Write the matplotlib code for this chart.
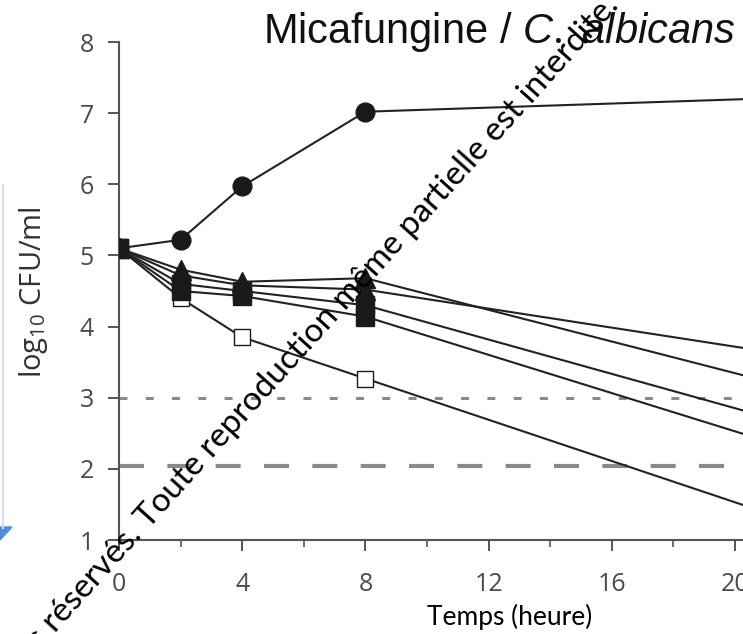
import matplotlib
matplotlib.use("Agg")
import matplotlib.pyplot as plt
from matplotlib.lines import Line2D
from matplotlib.patches import Polygon
from matplotlib.ticker import MultipleLocator

plt.rcParams['mathtext.fontset'] = 'custom'
plt.rcParams['mathtext.rm'] = 'Open Sans'
plt.rcParams['mathtext.it'] = 'Liberation Sans:italic'

# time-kill data, log10 CFU/ml
times = [0, 2, 4, 8, 24]
control = [5.10, 5.22, 5.97, 7.02, 7.25]          # filled circles
tri_a = [5.10, 4.80, 4.63, 4.68, 2.90]            # filled triangles
tri_b = [5.10, 4.72, 4.58, 4.52, 3.45]
sq_a = [5.10, 4.60, 4.50, 4.30, 2.37]             # filled squares
sq_b = [5.10, 4.50, 4.43, 4.14, 1.99]
open_sq = [5.10, 4.40, 3.85, 3.27, 0.95]          # open squares
fungistatic = 3.0
fungicidal = 2.04

W, H = 743, 634
fig = plt.figure(figsize=(W / 100, H / 100), dpi=100)
ax = fig.add_axes([119 / W, 1 - 540 / H, 1 - 119 / W, (540 - 42) / H])

ax.plot([0, 30], [fungistatic] * 2, color='#8a8a8a', lw=2.2, dashes=(2.6, 6.0), zorder=1)
ax.plot([0, 30], [fungicidal] * 2, color='#8a8a8a', lw=3.0, dashes=(6.0, 5.6), zorder=1)

lk = dict(color='#222222', lw=1.5, markeredgecolor='#1a1a1a', markeredgewidth=1.0)
ax.plot(times, open_sq, marker='s', ms=12, markerfacecolor='white', zorder=3, **lk)
ax.plot(times, sq_b, marker='s', ms=12.5, markerfacecolor='#1a1a1a', zorder=3, **lk)
ax.plot(times, sq_a, marker='s', ms=12.5, markerfacecolor='#1a1a1a', zorder=3, **lk)
ax.plot(times, tri_b, marker='^', ms=14, markerfacecolor='#1a1a1a', zorder=4, **lk)
ax.plot(times, tri_a, marker='^', ms=14, markerfacecolor='#1a1a1a', zorder=4, **lk)
ax.plot(times, control, marker='o', ms=13.5, markerfacecolor='#1a1a1a', zorder=5, **lk)

ax.set_xlim(0, (W - 119) / 30.8)
ax.set_ylim(1, 8)
ax.xaxis.set_major_locator(MultipleLocator(4))
ax.xaxis.set_minor_locator(MultipleLocator(2))
ax.yaxis.set_major_locator(MultipleLocator(1))
for s in ['top', 'right']:
    ax.spines[s].set_visible(False)
for s in ['left', 'bottom']:
    ax.spines[s].set_color('#555555')
    ax.spines[s].set_linewidth(1.5)
ax.tick_params(which='major', direction='out', length=8, width=1.4, color='#555555',
               labelsize=18, labelcolor='#4a4a4a')
ax.tick_params(axis='y', which='major', pad=10)
ax.tick_params(axis='x', which='major', pad=15)
ax.tick_params(which='minor', direction='out', length=5, width=1.2, color='#555555')
for lab in ax.get_xticklabels() + ax.get_yticklabels():
    lab.set_family('Open Sans')
ax.patch.set_alpha(0)

fig.text(33 / W, 1 - 292 / H, r'log$_{10}$ CFU/ml', rotation=90, ha='center', va='center',
         fontsize=21, color='#333333', family='Open Sans')
fig.text(510 / W, 1 - 617 / H, 'Temps (heure)', ha='center', va='center',
         fontsize=19, color='black', family='Lato')
fig.text(263 / W, 1 - 43 / H, r'Micafungine / $\mathit{C.\ albicans}$', ha='left',
         va='baseline', fontsize=30, color='#111111', family='Liberation Sans')

# watermark across the picture
fig.text(620 / W, 1 - 6 / H,
         'Tous droits réservés. Toute reproduction même partielle est interdite.',
         rotation=48, rotation_mode='anchor', ha='right', va='baseline',
         fontsize=24, color='black', family='Lato', zorder=10)

# screenshot border artefact on the left
fig.add_artist(Line2D([3 / W, 3 / W], [1 - 185 / H, 1 - 528 / H], color='#d3deee', lw=1.5))
fig.add_artist(Polygon([[0, 1 - 527 / H], [12 / W, 1 - 527 / H], [0, 1 - 540 / H]],
                       closed=True, color='#4a8fdc'))

fig.savefig('out.png', dpi=100)
